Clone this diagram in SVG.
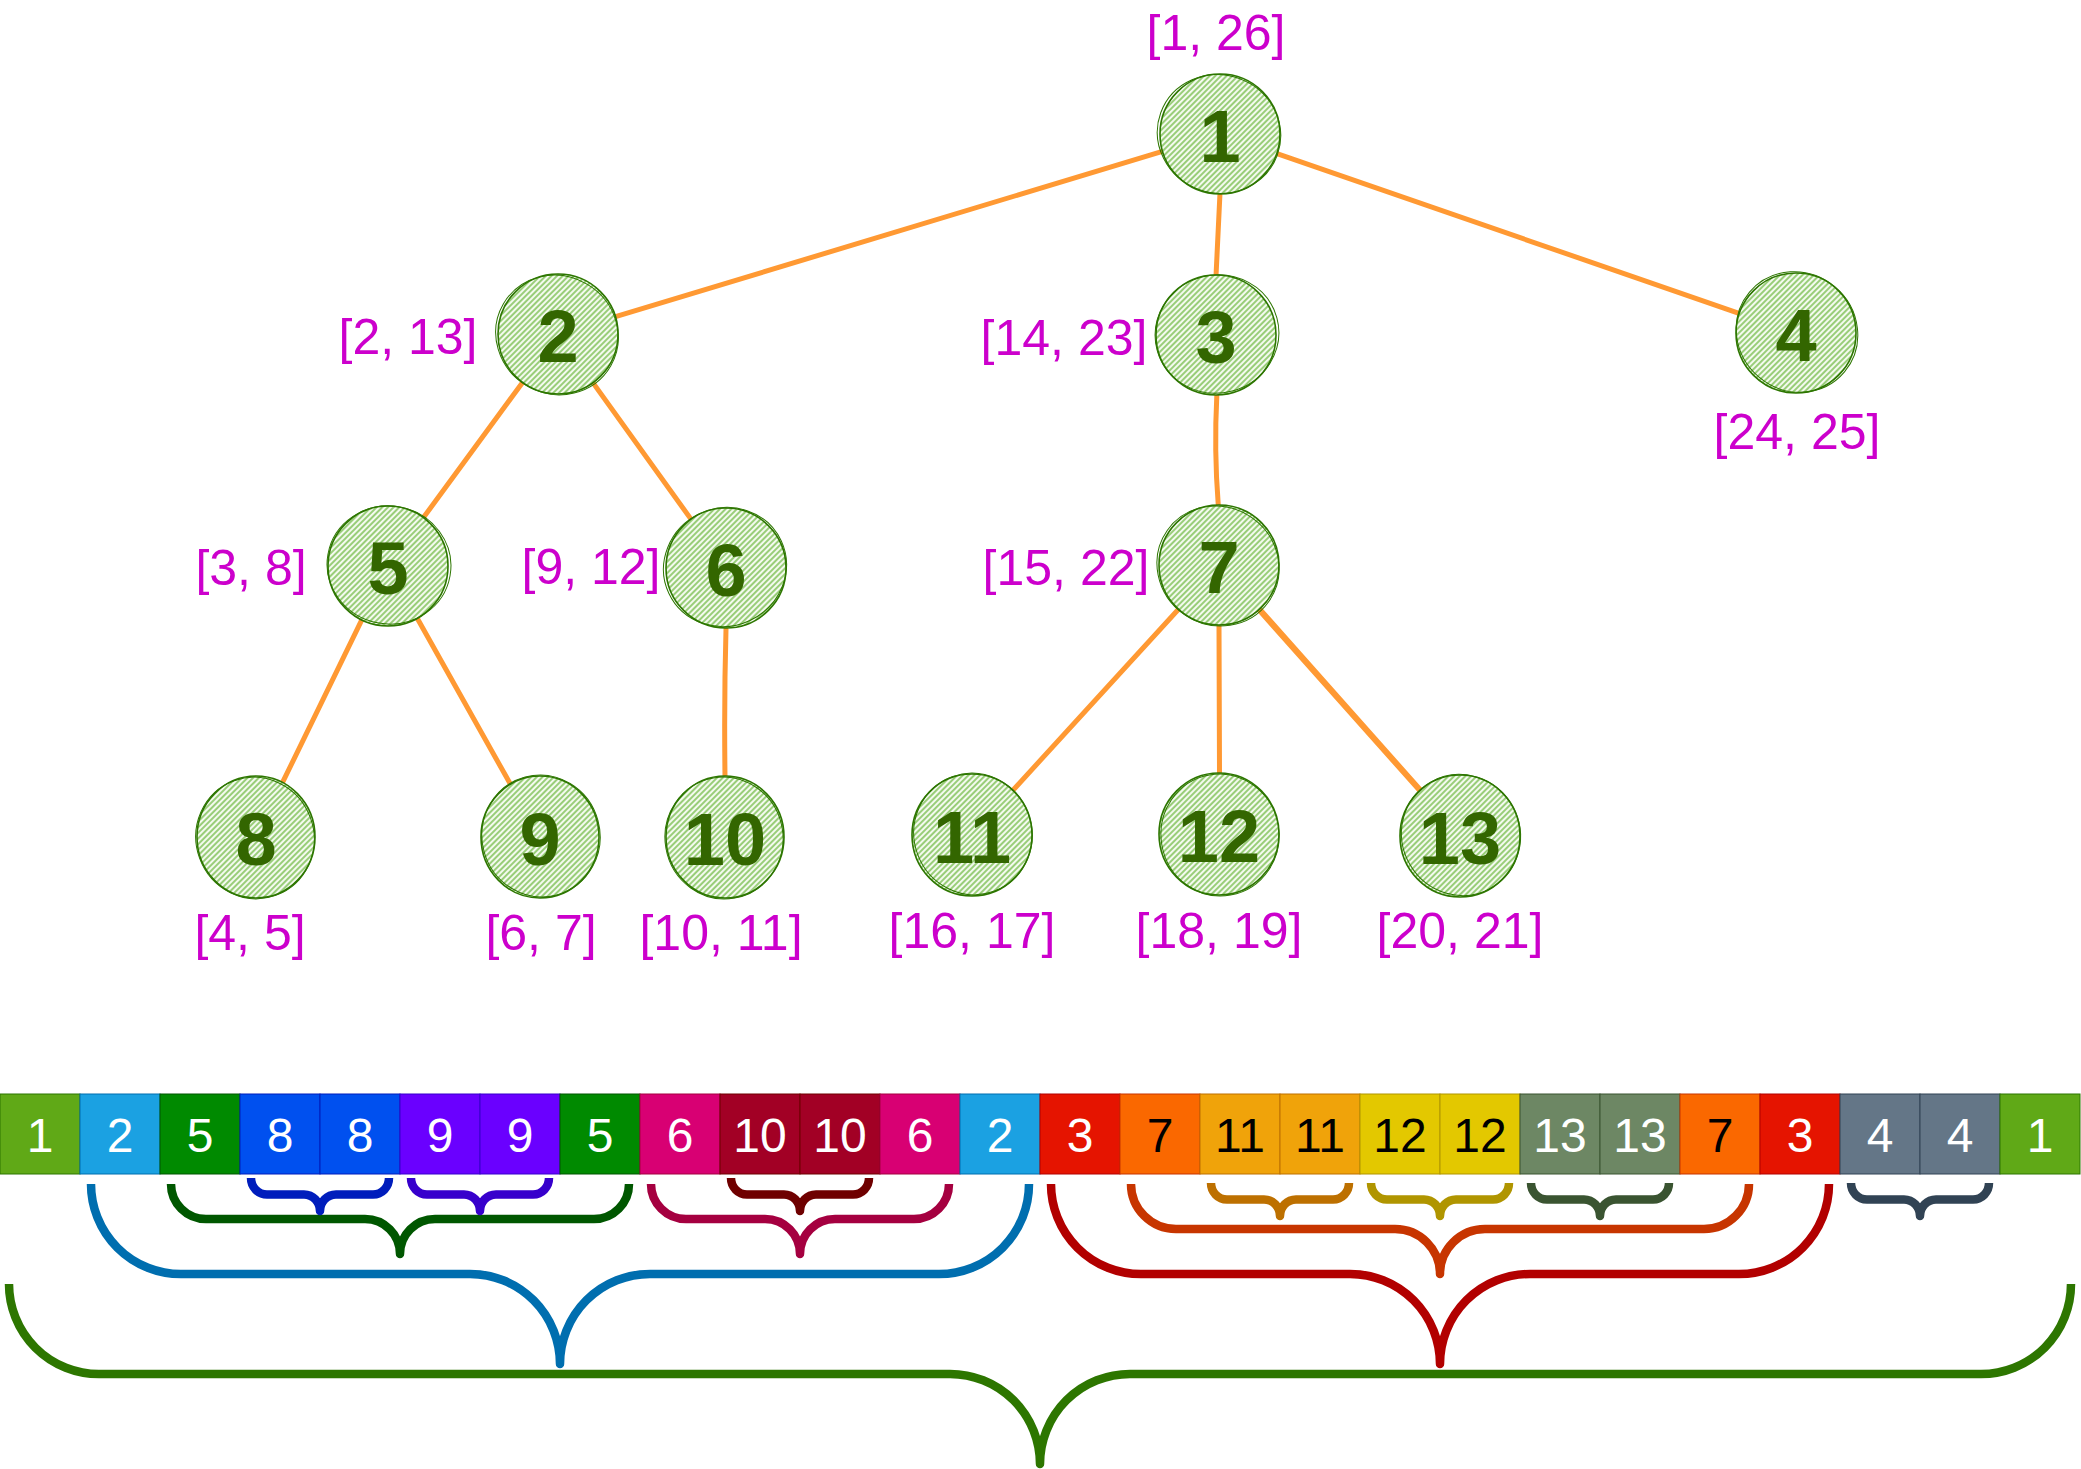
<svg xmlns="http://www.w3.org/2000/svg" width="2081" height="1469" viewBox="0 0 2081 1469">
<defs>
<pattern id="hatch" patternUnits="userSpaceOnUse" width="4" height="4" patternTransform="rotate(45)">
<rect width="4" height="4" fill="#f4faef"/>
<line x1="1" y1="0" x2="1" y2="4" stroke="#8fc96c" stroke-width="1.8"/>
</pattern>
<style>
.edge{stroke:#FF9933;stroke-width:5;fill:none;stroke-linecap:round}
.nf{fill:url(#hatch);stroke:#2D7600;stroke-width:1.6}
.ns{fill:none;stroke:#2D7600;stroke-width:1}
.nt{font-family:"Liberation Sans",Arial,sans-serif;font-weight:bold;font-size:74px;fill:#336600;text-anchor:middle}
.lb{font-family:"Liberation Sans",Arial,sans-serif;font-size:50px;fill:#CC00CC;text-anchor:middle}
.ct{font-family:"Liberation Sans",Arial,sans-serif;font-size:48px;fill:#ffffff;text-anchor:middle}
.ct.k{fill:#000000}
.br{fill:none;stroke-width:8.5;stroke-linecap:butt;stroke-linejoin:round}
</style>
</defs>
<rect width="2081" height="1469" fill="#ffffff"/>

<g id="edges">
<line class="edge" x1="1161.6" y1="151.6" x2="616.4" y2="316.4"/>
<line class="edge" x1="1219.9" y1="195" x2="1216.1" y2="274"/>
<line class="edge" x1="1277.7" y1="153.9" x2="1738.3" y2="313.1"/>
<line class="edge" x1="522" y1="383.2" x2="424" y2="516.8"/>
<line class="edge" x1="593.6" y1="383.6" x2="690.4" y2="518.4"/>
<path class="edge" d="M1216.8,396 Q1214,450 1218.2,504"/>
<line class="edge" x1="361.3" y1="620.8" x2="282.7" y2="782.2"/>
<line class="edge" x1="417.8" y1="619.2" x2="510.2" y2="783.8"/>
<path class="edge" d="M726,629 Q724,700 725,776"/>
<line class="edge" x1="1177.8" y1="610" x2="1013.2" y2="790"/>
<line class="edge" x1="1219" y1="626" x2="1219.5" y2="773"/>
<line class="edge" x1="1259.5" y1="610.6" x2="1419.5" y2="790.4"/>
<line class="edge" x1="1261" y1="609" x2="1421" y2="789" style="stroke-width:3"/>
</g>

<g id="node-1">
<circle class="nf" cx="1220" cy="134" r="60"/>
<ellipse class="ns" cx="1219" cy="134" rx="62" ry="59" transform="rotate(20 1219 134)"/>
<text class="nt" x="1220" y="162">1</text>
<text class="lb" x="1216" y="50">[1, 26]</text>
</g>
<g id="node-2">
<circle class="nf" cx="558" cy="334" r="60"/>
<ellipse class="ns" cx="557" cy="335" rx="62" ry="59" transform="rotate(30 557 335)"/>
<text class="nt" x="558" y="362">2</text>
<text class="lb" x="408" y="354">[2, 13]</text>
</g>
<g id="node-3">
<circle class="nf" cx="1216" cy="335" r="60"/>
<ellipse class="ns" cx="1217" cy="334" rx="62" ry="59" transform="rotate(-15 1217 334)"/>
<text class="nt" x="1216" y="363">3</text>
<text class="lb" x="1064" y="355">[14, 23]</text>
</g>
<g id="node-4">
<circle class="nf" cx="1796" cy="333" r="60"/>
<ellipse class="ns" cx="1797" cy="332" rx="62" ry="59" transform="rotate(40 1797 332)"/>
<text class="nt" x="1796" y="361">4</text>
<text class="lb" x="1797" y="449">[24, 25]</text>
</g>
<g id="node-5">
<circle class="nf" cx="388" cy="566" r="60"/>
<ellipse class="ns" cx="389" cy="565" rx="62" ry="59" transform="rotate(10 389 565)"/>
<text class="nt" x="388" y="594">5</text>
<text class="lb" x="251" y="585">[3, 8]</text>
</g>
<g id="node-6">
<circle class="nf" cx="726" cy="568" r="60"/>
<ellipse class="ns" cx="725" cy="567" rx="62" ry="59" transform="rotate(-25 725 567)"/>
<text class="nt" x="726" y="596">6</text>
<text class="lb" x="591" y="584">[9, 12]</text>
</g>
<g id="node-7">
<circle class="nf" cx="1219" cy="565" r="60"/>
<ellipse class="ns" cx="1218" cy="566" rx="62" ry="59" transform="rotate(35 1218 566)"/>
<text class="nt" x="1219" y="593">7</text>
<text class="lb" x="1066" y="585">[15, 22]</text>
</g>
<g id="node-8">
<ellipse class="nf" cx="256" cy="837" rx="59" ry="61"/>
<ellipse class="ns" cx="255" cy="838" rx="61" ry="59" transform="rotate(70 255 838)"/>
<text class="nt" x="256" y="865">8</text>
<text class="lb" x="250" y="950">[4, 5]</text>
</g>
<g id="node-9">
<ellipse class="nf" cx="540" cy="837" rx="59" ry="61"/>
<ellipse class="ns" cx="541" cy="836" rx="61" ry="59" transform="rotate(75 541 836)"/>
<text class="nt" x="540" y="865">9</text>
<text class="lb" x="541" y="950">[6, 7]</text>
</g>
<g id="node-10">
<ellipse class="nf" cx="725" cy="837" rx="59" ry="61"/>
<ellipse class="ns" cx="724" cy="838" rx="61" ry="59" transform="rotate(80 724 838)"/>
<text class="nt" x="725" y="865">10</text>
<text class="lb" x="721" y="950">[10, 11]</text>
</g>
<g id="node-11">
<ellipse class="nf" cx="972" cy="835" rx="60" ry="61"/>
<ellipse class="ns" cx="973" cy="834" rx="61" ry="59" transform="rotate(70 973 834)"/>
<text class="nt" x="972" y="863">11</text>
<text class="lb" x="972" y="948">[16, 17]</text>
</g>
<g id="node-12">
<ellipse class="nf" cx="1219" cy="834" rx="60" ry="61"/>
<ellipse class="ns" cx="1220" cy="835" rx="61" ry="59" transform="rotate(80 1220 835)"/>
<text class="nt" x="1219" y="862">12</text>
<text class="lb" x="1219" y="948">[18, 19]</text>
</g>
<g id="node-13">
<ellipse class="nf" cx="1460" cy="836" rx="60" ry="61"/>
<ellipse class="ns" cx="1461" cy="835" rx="61" ry="59" transform="rotate(60 1461 835)"/>
<text class="nt" x="1460" y="864">13</text>
<text class="lb" x="1460" y="948">[20, 21]</text>
</g>

<g id="array">
<rect x="0" y="1094" width="80" height="80" fill="#60a917" stroke="#2D7600"/>
<rect x="80" y="1094" width="80" height="80" fill="#1ba1e2" stroke="#006EAF"/>
<rect x="160" y="1094" width="80" height="80" fill="#008a00" stroke="#005700"/>
<rect x="240" y="1094" width="80" height="80" fill="#0050ef" stroke="#001DBC"/>
<rect x="320" y="1094" width="80" height="80" fill="#0050ef" stroke="#001DBC"/>
<rect x="400" y="1094" width="80" height="80" fill="#6a00ff" stroke="#3700CC"/>
<rect x="480" y="1094" width="80" height="80" fill="#6a00ff" stroke="#3700CC"/>
<rect x="560" y="1094" width="80" height="80" fill="#008a00" stroke="#005700"/>
<rect x="640" y="1094" width="80" height="80" fill="#d80073" stroke="#A50040"/>
<rect x="720" y="1094" width="80" height="80" fill="#a20025" stroke="#6F0000"/>
<rect x="800" y="1094" width="80" height="80" fill="#a20025" stroke="#6F0000"/>
<rect x="880" y="1094" width="80" height="80" fill="#d80073" stroke="#A50040"/>
<rect x="960" y="1094" width="80" height="80" fill="#1ba1e2" stroke="#006EAF"/>
<rect x="1040" y="1094" width="80" height="80" fill="#e51400" stroke="#B20000"/>
<rect x="1120" y="1094" width="80" height="80" fill="#fa6800" stroke="#C73500"/>
<rect x="1200" y="1094" width="80" height="80" fill="#f0a30a" stroke="#BD7000"/>
<rect x="1280" y="1094" width="80" height="80" fill="#f0a30a" stroke="#BD7000"/>
<rect x="1360" y="1094" width="80" height="80" fill="#e3c800" stroke="#B09500"/>
<rect x="1440" y="1094" width="80" height="80" fill="#e3c800" stroke="#B09500"/>
<rect x="1520" y="1094" width="80" height="80" fill="#6d8764" stroke="#3A5431"/>
<rect x="1600" y="1094" width="80" height="80" fill="#6d8764" stroke="#3A5431"/>
<rect x="1680" y="1094" width="80" height="80" fill="#fa6800" stroke="#C73500"/>
<rect x="1760" y="1094" width="80" height="80" fill="#e51400" stroke="#B20000"/>
<rect x="1840" y="1094" width="80" height="80" fill="#647687" stroke="#314354"/>
<rect x="1920" y="1094" width="80" height="80" fill="#647687" stroke="#314354"/>
<rect x="2000" y="1094" width="80" height="80" fill="#60a917" stroke="#2D7600"/>
<text class="ct" x="40" y="1152">1</text>
<text class="ct" x="120" y="1152">2</text>
<text class="ct" x="200" y="1152">5</text>
<text class="ct" x="280" y="1152">8</text>
<text class="ct" x="360" y="1152">8</text>
<text class="ct" x="440" y="1152">9</text>
<text class="ct" x="520" y="1152">9</text>
<text class="ct" x="600" y="1152">5</text>
<text class="ct" x="680" y="1152">6</text>
<text class="ct" x="760" y="1152">10</text>
<text class="ct" x="840" y="1152">10</text>
<text class="ct" x="920" y="1152">6</text>
<text class="ct" x="1000" y="1152">2</text>
<text class="ct" x="1080" y="1152">3</text>
<text class="ct k" x="1160" y="1152">7</text>
<text class="ct k" x="1240" y="1152">11</text>
<text class="ct k" x="1320" y="1152">11</text>
<text class="ct k" x="1400" y="1152">12</text>
<text class="ct k" x="1480" y="1152">12</text>
<text class="ct" x="1560" y="1152">13</text>
<text class="ct" x="1640" y="1152">13</text>
<text class="ct k" x="1720" y="1152">7</text>
<text class="ct" x="1800" y="1152">3</text>
<text class="ct" x="1880" y="1152">4</text>
<text class="ct" x="1960" y="1152">4</text>
<text class="ct" x="2040" y="1152">1</text>
</g>

<g id="braces">
<path class="br" stroke="#2D7600" d="M9,1284 A90,90 0 0 0 99,1374 L950,1374 A90,90 0 0 1 1040,1464 A90,90 0 0 1 1130,1374 L1981,1374 A90,90 0 0 0 2071,1284"/>
<path class="br" stroke="#006EAF" d="M91,1184 A90,90 0 0 0 181,1274 L470,1274 A90,90 0 0 1 560,1364 A90,90 0 0 1 650,1274 L939,1274 A90,90 0 0 0 1029,1184"/>
<path class="br" stroke="#B20000" d="M1051,1184 A90,90 0 0 0 1141,1274 L1350,1274 A90,90 0 0 1 1440,1364 A90,90 0 0 1 1530,1274 L1739,1274 A90,90 0 0 0 1829,1184"/>
<path class="br" stroke="#005700" d="M171,1184 A35,35 0 0 0 206,1219 L365,1219 A35,35 0 0 1 400,1254 A35,35 0 0 1 435,1219 L594,1219 A35,35 0 0 0 629,1184"/>
<path class="br" stroke="#A50040" d="M651,1184 A35,35 0 0 0 686,1219 L765,1219 A35,35 0 0 1 800,1254 A35,35 0 0 1 835,1219 L914,1219 A35,35 0 0 0 949,1184"/>
<path class="br" stroke="#C73500" d="M1131,1184 A45,45 0 0 0 1176,1229 L1395,1229 A45,45 0 0 1 1440,1274 A45,45 0 0 1 1485,1229 L1704,1229 A45,45 0 0 0 1749,1184"/>
<path class="br" stroke="#001DBC" d="M251,1178 A16,16.5 0 0 0 267,1194.5 L304,1194.5 A16,16.5 0 0 1 320,1211 A16,16.5 0 0 1 336,1194.5 L373,1194.5 A16,16.5 0 0 0 389,1178"/>
<path class="br" stroke="#3700CC" d="M411,1178 A16,16.5 0 0 0 427,1194.5 L464,1194.5 A16,16.5 0 0 1 480,1211 A16,16.5 0 0 1 496,1194.5 L533,1194.5 A16,16.5 0 0 0 549,1178"/>
<path class="br" stroke="#6F0000" d="M731,1178 A16,16.5 0 0 0 747,1194.5 L784,1194.5 A16,16.5 0 0 1 800,1211 A16,16.5 0 0 1 816,1194.5 L853,1194.5 A16,16.5 0 0 0 869,1178"/>
<path class="br" stroke="#BD7000" d="M1211,1183 A16,16.5 0 0 0 1227,1199.5 L1264,1199.5 A16,16.5 0 0 1 1280,1216 A16,16.5 0 0 1 1296,1199.5 L1333,1199.5 A16,16.5 0 0 0 1349,1183"/>
<path class="br" stroke="#B09500" d="M1371,1183 A16,16.5 0 0 0 1387,1199.5 L1424,1199.5 A16,16.5 0 0 1 1440,1216 A16,16.5 0 0 1 1456,1199.5 L1493,1199.5 A16,16.5 0 0 0 1509,1183"/>
<path class="br" stroke="#3A5431" d="M1531,1183 A16,16.5 0 0 0 1547,1199.5 L1584,1199.5 A16,16.5 0 0 1 1600,1216 A16,16.5 0 0 1 1616,1199.5 L1653,1199.5 A16,16.5 0 0 0 1669,1183"/>
<path class="br" stroke="#314354" d="M1851,1183 A16,16.5 0 0 0 1867,1199.5 L1904,1199.5 A16,16.5 0 0 1 1920,1216 A16,16.5 0 0 1 1936,1199.5 L1973,1199.5 A16,16.5 0 0 0 1989,1183"/>
</g>
</svg>
